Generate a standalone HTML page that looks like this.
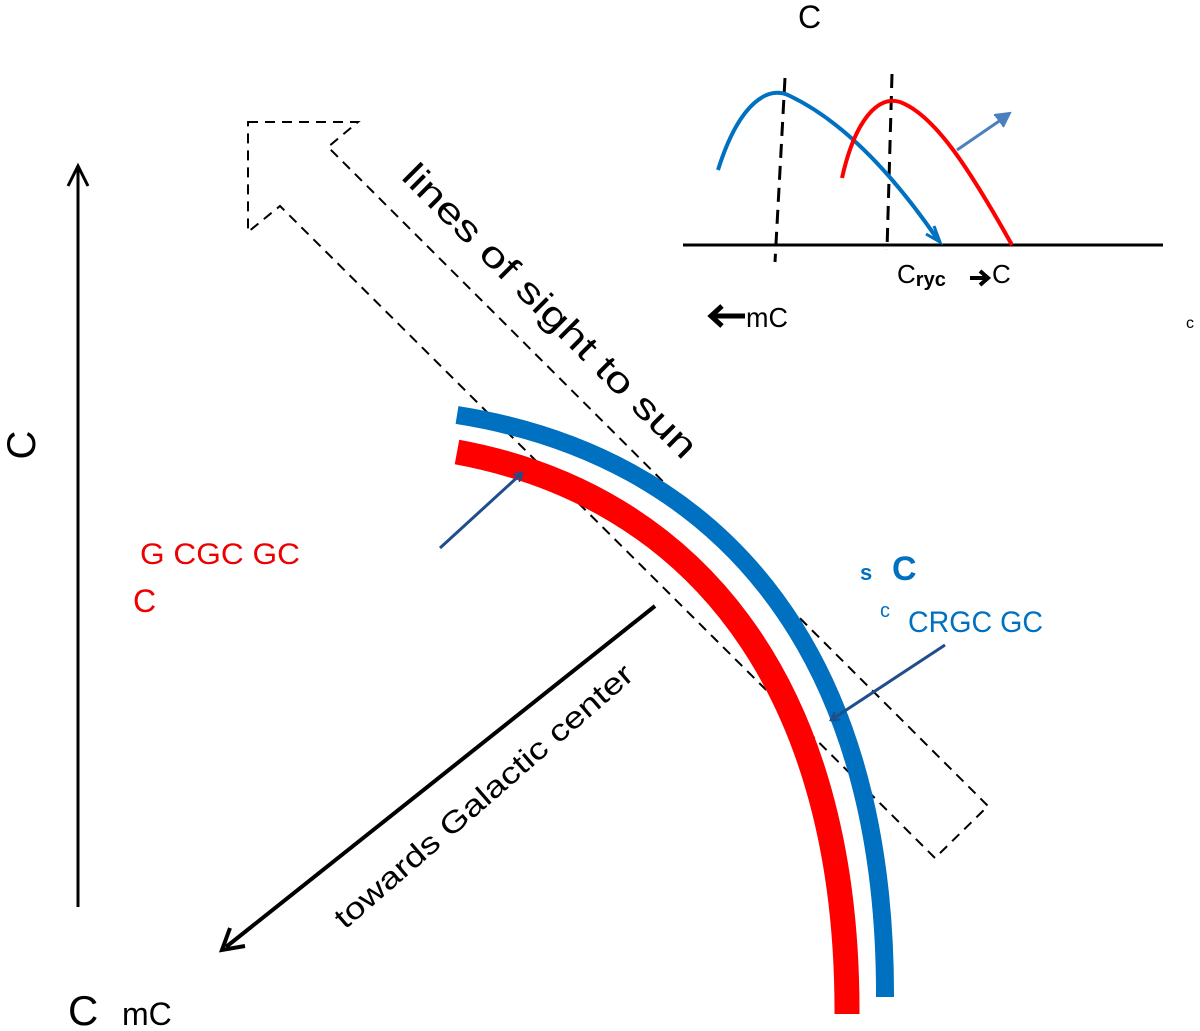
<!DOCTYPE html>
<html><head><meta charset="utf-8"><style>body{margin:0;background:#fff}svg{display:block}text{font-family:"Liberation Sans","DejaVu Sans",sans-serif}</style></head>
<body>
<svg width="1200" height="1031" viewBox="0 0 1200 1031" xmlns="http://www.w3.org/2000/svg">
<defs>
<marker id="ob" markerWidth="10" markerHeight="10" refX="8" refY="5" orient="auto" markerUnits="userSpaceOnUse"><path d="M0,0 L8,5 L0,10" fill="none" stroke="#1f4e8c" stroke-width="2.5"/></marker>
</defs>
<line x1="78" y1="907" x2="78" y2="166" stroke="#000" stroke-width="3"/>
<path d="M68,186 L78,166 L88,186" fill="none" stroke="#000" stroke-width="3"/>
<text x="35" y="445" font-size="40" transform="rotate(-90 35 445)" text-anchor="middle">C</text>
<text x="140" y="564" font-size="30" fill="#e00" textLength="160" lengthAdjust="spacingAndGlyphs">G  CGC GC</text>
<text x="133" y="612" font-size="32" fill="#e00">C</text>
<path d="M248,122 L358,122 L328,147 L988,806 L935,858 L280,206 L248,232 Z" fill="none" stroke="#000" stroke-width="2" stroke-dasharray="10,7"/>
<text x="400" y="178" font-size="36" transform="rotate(45 400 178)" textLength="400" lengthAdjust="spacingAndGlyphs">lines of sight to  sun</text>
<path d="M457,452 C690,495 848,680 847,1014" fill="none" stroke="#f00" stroke-width="25"/>
<path d="M457,415 C710,455 886,640 885,997" fill="none" stroke="#0070c0" stroke-width="18"/>
<line x1="655" y1="606" x2="226" y2="947" stroke="#000" stroke-width="4"/>
<path d="M230,928 L222,950 L245,946" fill="none" stroke="#000" stroke-width="4"/>
<text x="345" y="930" font-size="30" transform="rotate(-41 345 930)" textLength="385" lengthAdjust="spacingAndGlyphs">towards Galactic center</text>
<line x1="440" y1="548" x2="522" y2="473" stroke="#1f4e8c" stroke-width="3" marker-end="url(#ob)"/>
<line x1="945" y1="645" x2="831" y2="720" stroke="#1f4e8c" stroke-width="3" marker-end="url(#ob)"/>
<text x="860" y="580" font-size="22" fill="#0070c0" font-weight="bold">s</text>
<text x="892" y="580" font-size="34" fill="#0070c0" font-weight="bold">C</text>
<text x="880" y="617" font-size="20" fill="#0070c0">c</text>
<text x="908" y="632" font-size="30" fill="#0070c0" textLength="135" lengthAdjust="spacingAndGlyphs">CRGC GC</text>
<text x="798" y="28" font-size="32">C</text>
<line x1="683" y1="245" x2="1163" y2="245" stroke="#000" stroke-width="3"/>
<line x1="785" y1="78" x2="775" y2="262" stroke="#000" stroke-width="3" stroke-dasharray="14,8"/>
<line x1="892" y1="74" x2="887" y2="250" stroke="#000" stroke-width="3" stroke-dasharray="14,8"/>
<path d="M718,170 C740,100 770,85 790,96 C840,120 890,170 938,240" fill="none" stroke="#0070c0" stroke-width="4"/>
<path d="M926,234 L940,242 L934,226" fill="none" stroke="#0070c0" stroke-width="3"/>
<path d="M842,178 C855,120 878,95 900,102 C935,115 970,170 1012,245" fill="none" stroke="#f00" stroke-width="4"/>
<line x1="957" y1="150" x2="1008" y2="115" stroke="#4a7fc0" stroke-width="3"/>
<path d="M994,115 L1010,113 L1003,127" fill="#4a7fc0" stroke="#4a7fc0" stroke-width="2"/>
<text x="897" y="283" font-size="26">C<tspan font-size="20" dy="3" font-weight="bold">ryc</tspan></text>
<path d="M970,278 L986,278 M980,271 L988,278 L980,285" fill="none" stroke="#000" stroke-width="4"/>
<text x="992" y="283" font-size="26">C</text>
<path d="M712,316 L745,316 M722,306 L711,316 L722,326" fill="none" stroke="#000" stroke-width="5"/>
<text x="746" y="327" font-size="28" textLength="42" lengthAdjust="spacingAndGlyphs">mC</text>
<text x="1186" y="328" font-size="16">c</text>
<text x="68" y="1025" font-size="42">C</text>
<text x="122" y="1025" font-size="32">mC</text>
</svg>
</body></html>
